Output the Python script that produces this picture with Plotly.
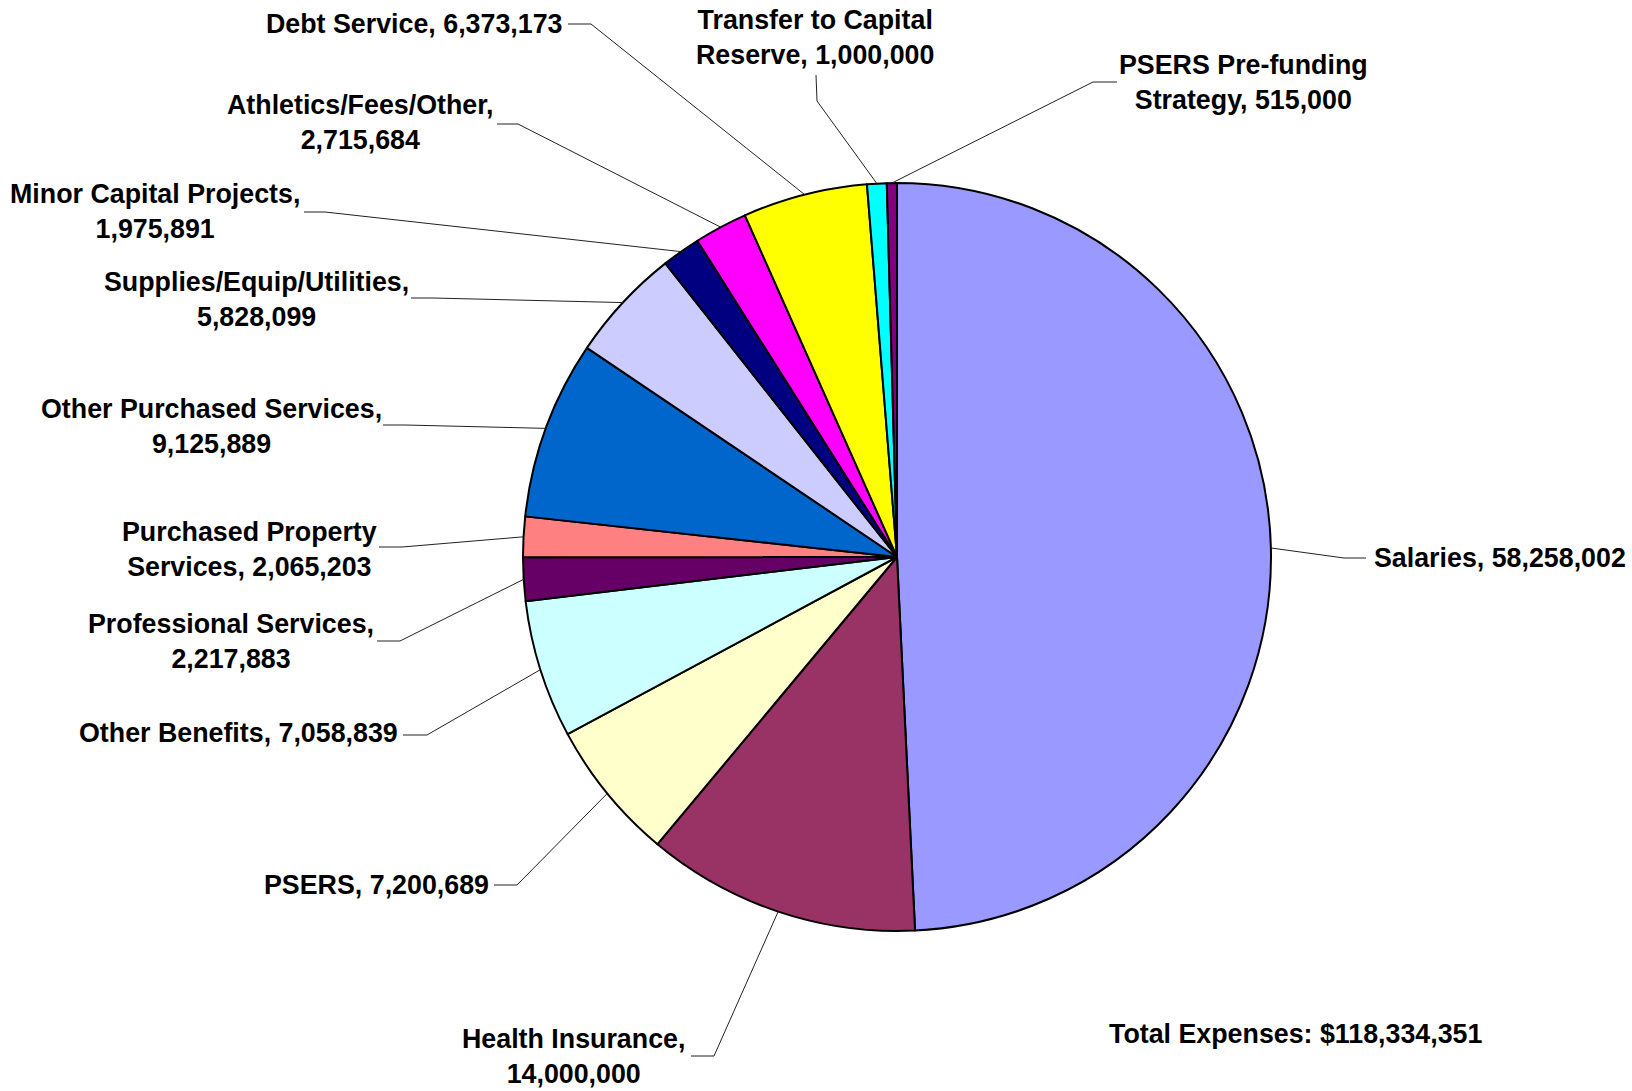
import numpy as np
import plotly.graph_objects as go

# ---------------- data ----------------
categories = [
    "Salaries", "Health Insurance", "PSERS", "Other Benefits",
    "Professional Services", "Purchased Property Services",
    "Other Purchased Services", "Supplies/Equip/Utilities",
    "Minor Capital Projects", "Athletics/Fees/Other", "Debt Service",
    "Transfer to Capital Reserve", "PSERS Pre-funding Strategy",
]
amounts = [58258002, 14000000, 7200689, 7058839, 2217883, 2065203,
           9125889, 5828099, 1975891, 2715684, 6373173, 1000000, 515000]
total_expenses = 118334351

# ---------------- styles / layout ----------------
colors = ["#9999FF", "#993366", "#FFFFCC", "#CCFFFF", "#660066", "#FF8080",
          "#0066CC", "#CCCCFF", "#000080", "#FF00FF", "#FFFF00", "#00FFFF",
          "#800080"]

W, H = 1632, 1091
CX, CY, R = 897, 557, 374            # pie centre / radius in pixels

# wrap: 0 single line, -1 break after comma, k break after k-th word of name
wrap = [0, -1, 0, 0, -1, 2, -1, -1, -1, -1, 0, 3, 2]
# label anchor (px) and x-anchor
label_pos = [
    (1372, 557.5, "left"), (573, 1056, "center"), (491, 885, "right"),
    (400, 733, "right"), (231, 641, "center"), (249, 549, "center"),
    (211, 426, "center"), (256, 299, "center"), (155, 211.5, "center"),
    (360, 123, "center"), (564, 24, "right"), (815, 37, "center"),
    (1243.5, 83, "center"),
]
leader_end = [(1366, 558), (691, 1056), (494, 885), (403, 735), (377, 641),
              (379, 547), (383, 425), (411, 298), (304, 212), (497, 124),
              (568, 24), (816, 75), (1117, 82)]
leader_elbow = [(1344, 558), (714, 1056), (517, 885), (427, 735), (400, 641),
                (402, 547), (405, 425), (433, 298), (325, 212), (518, 124),
                (591, 24), (817, 101), (1093, 82)]

FONT = "Liberation Sans, Arial, sans-serif"
FS = 26.8


def px(x):
    return x / W


def py(y):
    return 1 - y / H


def make_label(name, v, w):
    val = f"{v:,}"
    if w == 0:
        return f"{name}, {val}"
    if w == -1:
        return f"{name},<br>{val}"
    words = name.split(" ")
    return " ".join(words[:w]) + "<br>" + " ".join(words[w:]) + f", {val}"


fig = go.Figure(go.Pie(
    labels=categories,
    values=amounts,
    sort=False,
    direction="clockwise",
    rotation=0,
    textinfo="none",
    hoverinfo="label+value",
    marker=dict(colors=colors, line=dict(color="black", width=2)),
    domain=dict(x=[px(CX - R), px(CX + R)], y=[py(CY + R), py(CY - R)]),
    showlegend=False,
))

# slice mid-angles from data (clockwise from 12 o'clock)
vals = np.array(amounts, dtype=float)
cum = np.cumsum(vals) - vals / 2
theta = cum / vals.sum() * 2 * np.pi
edge_x = CX + R * np.sin(theta)
edge_y = CY - R * np.cos(theta)

shapes = []
annotations = []
for i, name in enumerate(categories):
    ex, ey = leader_end[i]
    bx, by = leader_elbow[i]
    line = dict(color="#222222", width=1)
    shapes.append(dict(type="line", xref="paper", yref="paper",
                       x0=px(edge_x[i]), y0=py(edge_y[i]), x1=px(bx), y1=py(by),
                       line=line, layer="above"))
    shapes.append(dict(type="line", xref="paper", yref="paper",
                       x0=px(bx), y0=py(by), x1=px(ex), y1=py(ey),
                       line=line, layer="above"))
    lx, ly, anc = label_pos[i]
    annotations.append(dict(
        x=px(lx), y=py(ly), xref="paper", yref="paper",
        text="<b>" + make_label(name, amounts[i], wrap[i]) + "</b>",
        showarrow=False, xanchor=anc, yanchor="middle", align="center",
        font=dict(family=FONT, size=FS, color="black"),
    ))

annotations.append(dict(
    x=px(1296), y=py(1034), xref="paper", yref="paper",
    text=f"<b>Total Expenses: ${total_expenses:,}</b>",
    showarrow=False, xanchor="center", yanchor="middle",
    font=dict(family=FONT, size=FS, color="black"),
))

fig.update_layout(
    width=W, height=H,
    margin=dict(l=0, r=0, t=0, b=0),
    paper_bgcolor="white", plot_bgcolor="white",
    shapes=shapes, annotations=annotations,
)

fig.write_html("out.html",
               config={"displayModeBar": False},
               post_script="document.body.style.margin='0';"
                           "document.body.style.overflow='hidden';")
